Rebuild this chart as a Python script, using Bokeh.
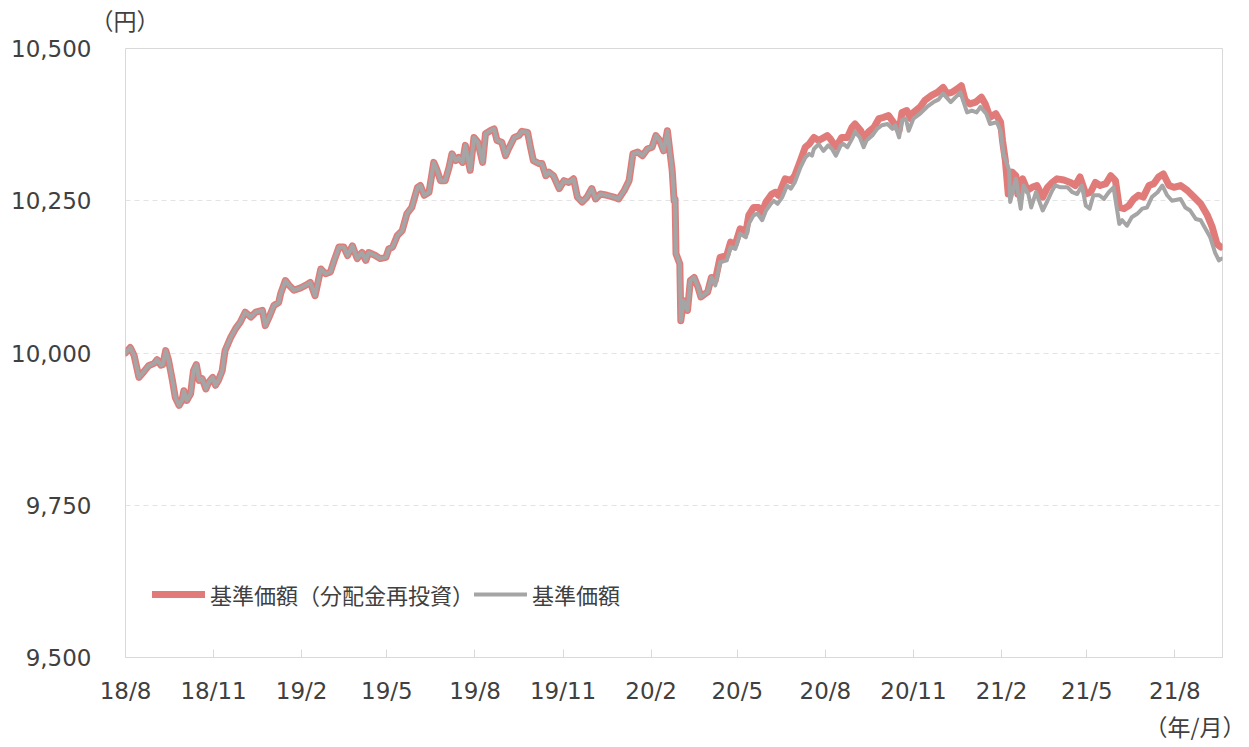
import pandas as pd
from bokeh.plotting import figure
from bokeh.models import (ColumnDataSource, Range1d, FixedTicker, CustomJSTickFormatter,
                          NumeralTickFormatter, Title, Legend, LegendItem)
from bokeh.embed import file_html
from bokeh.resources import INLINE

# ---- data ----
# common part (both series identical until early April 2020)
common_dates = [
    "2018-08-01", "2018-08-06", "2018-08-10", "2018-08-15", "2018-08-20", "2018-08-25", "2018-08-31",
    "2018-09-03", "2018-09-07", "2018-09-09", "2018-09-12", "2018-09-15", "2018-09-19", "2018-09-22",
    "2018-09-26", "2018-09-29", "2018-10-01", "2018-10-04", "2018-10-08", "2018-10-11", "2018-10-14",
    "2018-10-17", "2018-10-20", "2018-10-24", "2018-10-27", "2018-10-31", "2018-11-03", "2018-11-06",
    "2018-11-10", "2018-11-13", "2018-11-19", "2018-11-24", "2018-11-29", "2018-12-04", "2018-12-10",
    "2018-12-15", "2018-12-22", "2018-12-25", "2018-12-29", "2019-01-03", "2019-01-08", "2019-01-10",
    "2019-01-15", "2019-01-19", "2019-01-24", "2019-01-31", "2019-02-05", "2019-02-10", "2019-02-15",
    "2019-02-21", "2019-02-26", "2019-03-03", "2019-03-07", "2019-03-12", "2019-03-17", "2019-03-21",
    "2019-03-26", "2019-03-31", "2019-04-05", "2019-04-09", "2019-04-12", "2019-04-19", "2019-04-24",
    "2019-04-30", "2019-05-03", "2019-05-07", "2019-05-12", "2019-05-17", "2019-05-22", "2019-05-27",
    "2019-06-02", "2019-06-05", "2019-06-09", "2019-06-14", "2019-06-19", "2019-06-22", "2019-06-26",
    "2019-07-01", "2019-07-05", "2019-07-08", "2019-07-12", "2019-07-15", "2019-07-19", "2019-07-22",
    "2019-07-25", "2019-07-27", "2019-07-31", "2019-08-04", "2019-08-09", "2019-08-12", "2019-08-17",
    "2019-08-21", "2019-08-24", "2019-08-29", "2019-09-02", "2019-09-05", "2019-09-11", "2019-09-16",
    "2019-09-19", "2019-09-25", "2019-09-28", "2019-10-01", "2019-10-07", "2019-10-10", "2019-10-14",
    "2019-10-17", "2019-10-22", "2019-10-28", "2019-11-02", "2019-11-07", "2019-11-12", "2019-11-16",
    "2019-11-21", "2019-11-26", "2019-12-01", "2019-12-05", "2019-12-10", "2019-12-17", "2019-12-24",
    "2019-12-29", "2020-01-04", "2020-01-09", "2020-01-13", "2020-01-18", "2020-01-23", "2020-01-28",
    "2020-02-02", "2020-02-06", "2020-02-10", "2020-02-14", "2020-02-18", "2020-02-23", "2020-02-25",
    "2020-02-26", "2020-02-27", "2020-03-02", "2020-03-03", "2020-03-06", "2020-03-10", "2020-03-13",
    "2020-03-17", "2020-03-21", "2020-03-24", "2020-03-28", "2020-03-31", "2020-04-04",
]
common_values = [
    10000, 10009, 9996, 9960, 9969, 9979, 9983,
    9989, 9980, 9981, 10004, 9988, 9955, 9927,
    9914, 9922, 9938, 9922, 9933, 9971, 9981,
    9955, 9958, 9941, 9952, 9960, 9947, 9955,
    9971, 10004, 10026, 10040, 10051, 10067, 10059,
    10067, 10070, 10045, 10059, 10078, 10083, 10097,
    10119, 10111, 10103, 10107, 10111, 10116, 10094,
    10138, 10130, 10133, 10152, 10174, 10174, 10160,
    10176, 10155, 10165, 10152, 10165, 10160, 10155,
    10157, 10171, 10174, 10193, 10201, 10229, 10239,
    10272, 10275, 10259, 10264, 10313, 10302, 10283,
    10283, 10305, 10327, 10316, 10321, 10313, 10341,
    10316, 10300, 10354, 10346, 10313, 10360, 10365,
    10368, 10349, 10346, 10324, 10335, 10354, 10357,
    10364, 10362, 10338, 10316, 10311, 10311, 10291,
    10297, 10291, 10270, 10283, 10280, 10286, 10256,
    10248, 10256, 10270, 10253, 10261, 10259, 10256,
    10253, 10267, 10283, 10327, 10330, 10324, 10335,
    10338, 10357, 10349, 10332, 10365, 10300, 10250,
    10253, 10163, 10146, 10053, 10086, 10070, 10119,
    10124, 10108, 10092, 10097, 10100, 10124,
]

# 基準価額（分配金再投資）from April 2020
reinvest_dates_late = [
    "2020-04-08", "2020-04-13", "2020-04-20", "2020-04-24", "2020-04-29", "2020-05-04", "2020-05-10",
    "2020-05-13", "2020-05-18", "2020-05-23", "2020-05-27", "2020-05-31", "2020-06-06", "2020-06-10",
    "2020-06-13", "2020-06-20", "2020-06-26", "2020-06-30", "2020-07-06", "2020-07-11", "2020-07-15",
    "2020-07-20", "2020-07-25", "2020-08-03", "2020-08-06", "2020-08-12", "2020-08-18", "2020-08-24",
    "2020-08-29", "2020-09-01", "2020-09-07", "2020-09-10", "2020-09-15", "2020-09-21", "2020-09-26",
    "2020-10-01", "2020-10-06", "2020-10-11", "2020-10-17", "2020-10-20", "2020-10-25", "2020-10-29",
    "2020-11-01", "2020-11-08", "2020-11-13", "2020-11-20", "2020-11-26", "2020-12-02", "2020-12-06",
    "2020-12-11", "2020-12-17", "2020-12-21", "2020-12-25", "2020-12-30", "2021-01-05", "2021-01-11",
    "2021-01-15", "2021-01-20", "2021-01-26", "2021-01-31", "2021-02-02", "2021-02-05", "2021-02-08",
    "2021-02-12", "2021-02-16", "2021-02-18", "2021-02-23", "2021-02-28", "2021-03-05", "2021-03-10",
    "2021-03-16", "2021-03-21", "2021-03-26", "2021-03-31", "2021-04-07", "2021-04-14", "2021-04-19",
    "2021-04-24", "2021-04-30", "2021-05-05", "2021-05-10", "2021-05-15", "2021-05-21", "2021-05-26",
    "2021-05-31", "2021-06-04", "2021-06-09", "2021-06-14", "2021-06-19", "2021-06-24", "2021-06-29",
    "2021-07-05", "2021-07-10", "2021-07-15", "2021-07-20", "2021-07-26", "2021-07-31", "2021-08-07",
    "2021-08-14", "2021-08-21", "2021-08-28", "2021-09-04", "2021-09-09", "2021-09-14", "2021-09-18",
]
reinvest_values_late = [
    10119, 10157, 10160, 10182, 10179, 10204, 10198,
    10226, 10239, 10239, 10231, 10248, 10261, 10264,
    10259, 10286, 10283, 10291, 10316, 10338, 10343,
    10354, 10349, 10357, 10352, 10338, 10354, 10354,
    10371, 10376, 10365, 10352, 10363, 10371, 10385,
    10387, 10390, 10379, 10365, 10395, 10398, 10385,
    10395, 10404, 10415, 10423, 10428, 10436, 10426,
    10428, 10434, 10439, 10415, 10409, 10412, 10420,
    10409, 10387, 10393, 10379, 10349, 10316, 10261,
    10297, 10291, 10261, 10286, 10267, 10272, 10275,
    10256, 10272, 10280, 10286, 10284, 10280, 10275,
    10289, 10261, 10264, 10280, 10275, 10278, 10291,
    10283, 10239, 10237, 10242, 10253, 10259, 10256,
    10275, 10278, 10289, 10294, 10275, 10272, 10275,
    10267, 10256, 10245, 10226, 10207, 10179, 10174,
]

# 基準価額 from April 2020
nav_dates_late = [
    "2020-04-08", "2020-04-13", "2020-04-20", "2020-04-24", "2020-04-29", "2020-05-04", "2020-05-10",
    "2020-05-13", "2020-05-18", "2020-05-22", "2020-05-27", "2020-05-31", "2020-06-05", "2020-06-08",
    "2020-06-12", "2020-06-17", "2020-06-22", "2020-06-26", "2020-06-30", "2020-07-06", "2020-07-11",
    "2020-07-15", "2020-07-18", "2020-07-20", "2020-07-25", "2020-07-30", "2020-08-04", "2020-08-08",
    "2020-08-12", "2020-08-17", "2020-08-20", "2020-08-24", "2020-08-29", "2020-09-01", "2020-09-06",
    "2020-09-10", "2020-09-13", "2020-09-19", "2020-09-24", "2020-09-29", "2020-10-05", "2020-10-10",
    "2020-10-13", "2020-10-17", "2020-10-20", "2020-10-24", "2020-10-27", "2020-11-01", "2020-11-08",
    "2020-11-15", "2020-11-22", "2020-11-27", "2020-12-02", "2020-12-10", "2020-12-15", "2020-12-20",
    "2020-12-27", "2021-01-01", "2021-01-06", "2021-01-10", "2021-01-16", "2021-01-20", "2021-01-27",
    "2021-01-31", "2021-02-03", "2021-02-09", "2021-02-10", "2021-02-16", "2021-02-21", "2021-02-24",
    "2021-03-01", "2021-03-04", "2021-03-09", "2021-03-16", "2021-03-21", "2021-03-26", "2021-03-29",
    "2021-04-04", "2021-04-11", "2021-04-16", "2021-04-21", "2021-04-26", "2021-04-30", "2021-05-04",
    "2021-05-08", "2021-05-14", "2021-05-19", "2021-05-24", "2021-05-29", "2021-06-04", "2021-06-07",
    "2021-06-12", "2021-06-17", "2021-06-23", "2021-06-28", "2021-07-03", "2021-07-08", "2021-07-14",
    "2021-07-19", "2021-07-24", "2021-07-29", "2021-08-07", "2021-08-12", "2021-08-17", "2021-08-23",
    "2021-08-28", "2021-09-02", "2021-09-07", "2021-09-12", "2021-09-16", "2021-09-19",
]
nav_values_late = [
    10111, 10149, 10152, 10174, 10171, 10196, 10190,
    10212, 10226, 10229, 10218, 10234, 10245, 10250,
    10245, 10256, 10275, 10270, 10280, 10305, 10321,
    10327, 10324, 10335, 10343, 10332, 10341, 10335,
    10324, 10341, 10343, 10338, 10352, 10363, 10354,
    10338, 10349, 10357, 10368, 10374, 10376, 10368,
    10374, 10354, 10382, 10385, 10365, 10385, 10393,
    10404, 10412, 10416, 10426, 10412, 10420, 10428,
    10395, 10398, 10395, 10404, 10393, 10376, 10379,
    10365, 10327, 10300, 10248, 10286, 10237, 10275,
    10261, 10239, 10264, 10234, 10250, 10267, 10275,
    10272, 10272, 10264, 10261, 10275, 10242, 10237,
    10259, 10259, 10253, 10264, 10272, 10212, 10218,
    10209, 10223, 10229, 10237, 10239, 10256, 10264,
    10275, 10259, 10250, 10253, 10239, 10234, 10220,
    10218, 10204, 10190, 10165, 10152, 10155,
]

tick_dates = ["2018-08-01", "2018-11-01", "2019-02-01", "2019-05-01", "2019-08-01", "2019-11-01",
              "2020-02-01", "2020-05-01", "2020-08-01", "2020-11-01", "2021-02-01", "2021-05-01",
              "2021-08-01"]
tick_labels = ["18/8", "18/11", "19/2", "19/5", "19/8", "19/11", "20/2", "20/5", "20/8", "20/11",
               "21/2", "21/5", "21/8"]
y_ticks = [9500, 9750, 10000, 10250, 10500]
series_names = ["基準価額（分配金再投資）", "基準価額"]
unit_y = "（円）"
unit_x = "（年/月）"

# ---- build figure ----
reinv_src = ColumnDataSource(dict(x=pd.to_datetime(common_dates + reinvest_dates_late),
                                  y=common_values + reinvest_values_late))
nav_src = ColumnDataSource(dict(x=pd.to_datetime(common_dates + nav_dates_late),
                                y=common_values + nav_values_late))

x_start = pd.Timestamp("2018-08-01")
x_end = pd.Timestamp("2021-09-19 19:00")

TEXT = "#404040"
GRID = "#D9D9D9"
JP = "Noto Sans CJK JP"

p = figure(width=1245, height=745, x_axis_type="datetime", output_backend="svg",
           toolbar_location=None, x_range=Range1d(x_start, x_end), y_range=Range1d(9500, 10500),
           min_border_left=125, min_border_right=23, min_border_top=48, min_border_bottom=88)
p.background_fill_color = "white"
p.border_fill_color = "white"
p.outline_line_color = GRID
p.outline_line_width = 1

r1 = p.line("x", "y", source=reinv_src, line_color="#E07B79", line_width=7,
            line_join="round", line_cap="round")
r2 = p.line("x", "y", source=nav_src, line_color="#A5A5A5", line_width=4,
            line_join="round", line_cap="round")

# y axis
p.yaxis.ticker = FixedTicker(ticks=y_ticks)
p.yaxis.formatter = NumeralTickFormatter(format="0,0")
p.yaxis.axis_line_color = None
p.yaxis.major_tick_line_color = None
p.yaxis.minor_tick_line_color = None
p.yaxis.major_tick_in = 0
p.yaxis.major_tick_out = 0
p.yaxis.major_label_standoff = 34
p.yaxis.major_label_text_font = "DejaVu Sans"
p.yaxis.major_label_text_font_size = "23px"
p.yaxis.major_label_text_color = TEXT

# x axis
tick_ms = [pd.Timestamp(d).value / 1e6 for d in tick_dates]
p.xaxis.ticker = FixedTicker(ticks=tick_ms)
p.xaxis.formatter = CustomJSTickFormatter(args=dict(tick_vals=tick_ms, tick_names=tick_labels), code="""
    for (let i = 0; i < tick_vals.length; i++) {
        if (Math.abs(tick_vals[i] - tick) < 1) { return tick_names[i]; }
    }
    return "";
""")
p.xaxis.axis_line_color = GRID
p.xaxis.major_tick_line_color = GRID
p.xaxis.minor_tick_line_color = None
p.xaxis.major_tick_in = 8
p.xaxis.major_tick_out = 0
p.xaxis.major_label_standoff = 20
p.xaxis.major_label_text_font = "DejaVu Sans"
p.xaxis.major_label_text_font_size = "23px"
p.xaxis.major_label_text_color = TEXT

# grid
p.xgrid.visible = False
p.ygrid.ticker = FixedTicker(ticks=[9750, 10000, 10250])
p.ygrid.grid_line_color = "#E3E3E3"
p.ygrid.grid_line_dash = "5 4"
p.ygrid.grid_line_width = 1

# unit labels (placed in the side panels so they are not clipped by the frame)
p.add_layout(Title(text=" ", align="left", standoff=0, text_font="DejaVu Sans",
                   text_font_size="8px", text_color="white"), "above")
p.add_layout(Title(text=unit_y, align="left", vertical_align="middle", offset=-35, standoff=0,
                   text_font=JP, text_font_size="23px", text_font_style="normal",
                   text_color=TEXT), "above")
p.add_layout(Title(text=unit_x, align="right", vertical_align="bottom", offset=-23, standoff=0,
                   text_font=JP, text_font_size="23px", text_font_style="normal",
                   text_color=TEXT), "below")

legend = Legend(items=[LegendItem(label=series_names[0], renderers=[r1]),
                       LegendItem(label=series_names[1], renderers=[r2])],
                orientation="horizontal", location=(27, 47), border_line_color=None,
                background_fill_alpha=0, label_text_font=JP,
                label_text_font_size="22px", label_text_color=TEXT,
                glyph_width=53, glyph_height=20, label_standoff=5, spacing=0,
                padding=0, margin=0)
p.add_layout(legend)

open("out.html", "w").write(file_html(p, INLINE))
